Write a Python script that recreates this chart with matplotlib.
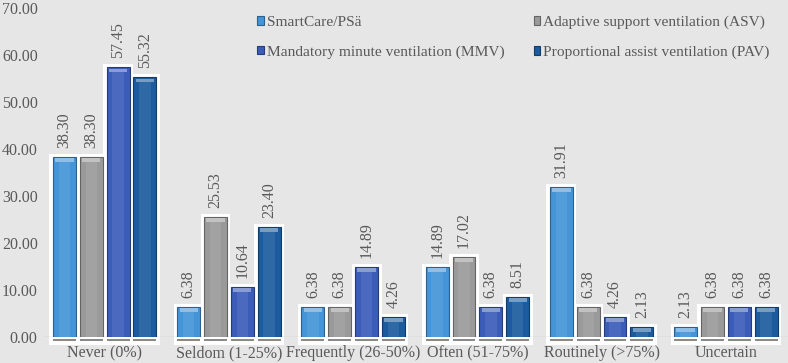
import numpy as np
import matplotlib.pyplot as plt
from matplotlib.colors import to_rgb

# data
categories = ['Never (0%)', 'Seldom (1-25%)', 'Frequently (26-50%)',
              'Often (51-75%)', 'Routinely (>75%)', 'Uncertain']
series_names = ['SmartCare/PSä', 'Adaptive support ventilation (ASV)',
                'Mandatory minute ventilation (MMV)', 'Proportional assist ventilation (PAV)']
smartcare = [38.30, 6.38, 6.38, 14.89, 31.91, 2.13]
asv = [38.30, 25.53, 6.38, 17.02, 6.38, 6.38]
mmv = [57.45, 10.64, 14.89, 6.38, 4.26, 6.38]
pav = [55.32, 23.40, 4.26, 8.51, 2.13, 6.38]
yticks = [0, 10, 20, 30, 40, 50, 60, 70]

colors = ['#4594d8', '#9a9a9a', '#3b5cb8', '#1c5c9e']
text_col = '#595959'

plt.rcParams['font.family'] = ['Liberation Serif', 'DejaVu Serif']

fig = plt.figure(figsize=(7.88, 3.63), dpi=100, facecolor='#e6e6e6')
ax = fig.add_axes([0.054, 0.0716, 0.946, 0.906])
ax.set_facecolor('#e6e6e6')

x = np.arange(len(categories))
pitch = 0.216
width = 0.184
all_series = [smartcare, asv, mmv, pav]


def shade(c, f):
    r, g, b = to_rgb(c)
    if f > 0:
        return (r + (1 - r) * f, g + (1 - g) * f, b + (1 - b) * f)
    return (r * (1 + f), g * (1 + f), b * (1 + f))


# white glow behind bars
for k, vals in enumerate(all_series):
    xs = x + (k - 1.5) * pitch
    ax.bar(xs, np.array(vals) + 2.3, width=pitch + 0.025, bottom=-1.7,
           color='white', zorder=1, clip_on=False)

for k, vals in enumerate(all_series):
    xs = x + (k - 1.5) * pitch
    c = colors[k]
    # shadow below the bar
    ax.bar(xs, 0.5, width=width, bottom=-0.9, color='#8a8a8a', zorder=2, clip_on=False)
    ax.bar(xs, vals, width=width, color=c, edgecolor=shade(c, -0.35),
           linewidth=0.8, zorder=3, label=series_names[k])
    # lighter inner band for rounded look
    ax.bar(xs, np.array(vals) - 0.9, width=width * 0.5, color=shade(c, 0.08),
           zorder=4, linewidth=0)
    # top bevel highlight
    ax.bar(xs, 0.7, width=width * 0.8, bottom=np.array(vals) - 1.0,
           color=shade(c, 0.4), zorder=5, linewidth=0)
    for xi, v in zip(xs, vals):
        ax.text(xi, v + 2.0, f'{v:.2f}', rotation=90, ha='center', va='bottom',
                fontsize=11.5, color=text_col, zorder=6)

ax.axhline(0, color='#c8c8c8', linewidth=1, zorder=1.5)

ax.set_xlim(-0.5, len(categories) - 0.5)
ax.set_ylim(0, 70)
ax.set_yticks(yticks)
ax.set_yticklabels([f'{t:.2f}' for t in yticks])
ax.set_xticks(x)
ax.set_xticklabels(categories)
ax.tick_params(length=0, labelsize=11.5, colors=text_col)
ax.tick_params(axis='x', pad=6)
for s in ax.spines.values():
    s.set_visible(False)

handles, labels = ax.get_legend_handles_labels()
order = [0, 2, 1, 3]  # legend fills column-wise
leg = fig.legend([handles[i] for i in order], [labels[i] for i in order],
                 loc='upper left', bbox_to_anchor=(0.309, 0.995),
                 ncol=2, frameon=False, fontsize=11.1, handlelength=0.45,
                 handleheight=0.5, handletextpad=0.15, columnspacing=1.9,
                 labelspacing=1.05)
for t in leg.get_texts():
    t.set_color(text_col)

fig.savefig('out.png', dpi=100, facecolor=fig.get_facecolor())
